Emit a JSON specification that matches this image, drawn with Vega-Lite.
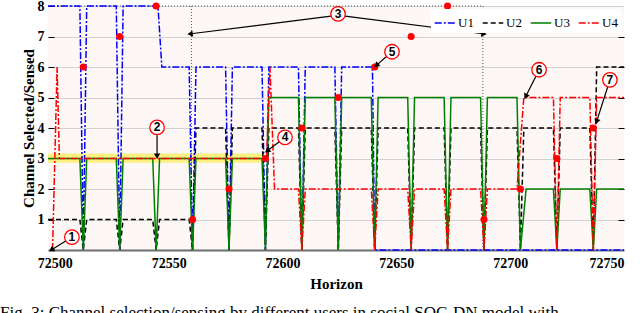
{
  "$schema": "https://vega.github.io/schema/vega-lite/v6.json",
  "width": 576,
  "height": 244,
  "autosize": {"type": "none"},
  "padding": {"left": 48, "top": 6, "right": 16, "bottom": 63},
  "background": "white",
  "config": {
    "view": {"fill": "#fdf7f6", "stroke": null},
    "font": "Liberation Serif"
  },
  "title": {
    "text": "Fig. 3: Channel selection/sensing by different users in social SOC-DN model with",
    "orient": "bottom",
    "anchor": "start",
    "frame": "group",
    "dx": -48,
    "offset": 14,
    "font": "Liberation Serif",
    "fontSize": 17,
    "fontWeight": "normal",
    "color": "black"
  },
  "datasets": {
    "series": [
      {"user": "U1", "t": 72497, "ch": 8},
      {"user": "U1", "t": 72511, "ch": 8}, {"user": "U1", "t": 72512.5, "ch": 0}, {"user": "U1", "t": 72514, "ch": 8},
      {"user": "U1", "t": 72527, "ch": 8}, {"user": "U1", "t": 72528.5, "ch": 0}, {"user": "U1", "t": 72530, "ch": 8},
      {"user": "U1", "t": 72545.3, "ch": 8}, {"user": "U1", "t": 72547, "ch": 6},
      {"user": "U1", "t": 72559, "ch": 6}, {"user": "U1", "t": 72560.5, "ch": 0}, {"user": "U1", "t": 72562, "ch": 6},
      {"user": "U1", "t": 72575, "ch": 6}, {"user": "U1", "t": 72576.5, "ch": 0}, {"user": "U1", "t": 72578, "ch": 6},
      {"user": "U1", "t": 72591, "ch": 6}, {"user": "U1", "t": 72592.5, "ch": 0}, {"user": "U1", "t": 72594, "ch": 6},
      {"user": "U1", "t": 72607, "ch": 6}, {"user": "U1", "t": 72608.5, "ch": 0}, {"user": "U1", "t": 72610, "ch": 6},
      {"user": "U1", "t": 72623, "ch": 6}, {"user": "U1", "t": 72624.5, "ch": 0}, {"user": "U1", "t": 72626, "ch": 6},
      {"user": "U1", "t": 72639.5, "ch": 6}, {"user": "U1", "t": 72640.5, "ch": 0}, {"user": "U1", "t": 72750, "ch": 0},

      {"user": "U2", "t": 72497, "ch": 1},
      {"user": "U2", "t": 72511, "ch": 1}, {"user": "U2", "t": 72512.5, "ch": 0}, {"user": "U2", "t": 72514, "ch": 1},
      {"user": "U2", "t": 72527, "ch": 1}, {"user": "U2", "t": 72528.5, "ch": 0}, {"user": "U2", "t": 72530, "ch": 1},
      {"user": "U2", "t": 72543, "ch": 1}, {"user": "U2", "t": 72544.5, "ch": 0}, {"user": "U2", "t": 72546, "ch": 1},
      {"user": "U2", "t": 72559, "ch": 1}, {"user": "U2", "t": 72560.5, "ch": 0}, {"user": "U2", "t": 72562, "ch": 4},
      {"user": "U2", "t": 72575, "ch": 4}, {"user": "U2", "t": 72576.5, "ch": 0}, {"user": "U2", "t": 72578, "ch": 4},
      {"user": "U2", "t": 72591, "ch": 4}, {"user": "U2", "t": 72592.5, "ch": 0}, {"user": "U2", "t": 72594, "ch": 4},
      {"user": "U2", "t": 72607, "ch": 4}, {"user": "U2", "t": 72608.5, "ch": 0}, {"user": "U2", "t": 72610, "ch": 4},
      {"user": "U2", "t": 72623, "ch": 4}, {"user": "U2", "t": 72624.5, "ch": 0}, {"user": "U2", "t": 72626, "ch": 4},
      {"user": "U2", "t": 72639, "ch": 4}, {"user": "U2", "t": 72640.5, "ch": 0}, {"user": "U2", "t": 72642, "ch": 4},
      {"user": "U2", "t": 72655, "ch": 4}, {"user": "U2", "t": 72656.5, "ch": 0}, {"user": "U2", "t": 72658, "ch": 4},
      {"user": "U2", "t": 72671, "ch": 4}, {"user": "U2", "t": 72672.5, "ch": 0}, {"user": "U2", "t": 72674, "ch": 4},
      {"user": "U2", "t": 72687, "ch": 4}, {"user": "U2", "t": 72688.5, "ch": 0}, {"user": "U2", "t": 72690, "ch": 4},
      {"user": "U2", "t": 72703, "ch": 4}, {"user": "U2", "t": 72704.5, "ch": 0}, {"user": "U2", "t": 72706, "ch": 4},
      {"user": "U2", "t": 72719, "ch": 4}, {"user": "U2", "t": 72720.5, "ch": 0}, {"user": "U2", "t": 72722, "ch": 4},
      {"user": "U2", "t": 72735, "ch": 4}, {"user": "U2", "t": 72736.5, "ch": 0}, {"user": "U2", "t": 72738, "ch": 6},
      {"user": "U2", "t": 72750, "ch": 6},

      {"user": "U3", "t": 72497, "ch": 3},
      {"user": "U3", "t": 72511, "ch": 3}, {"user": "U3", "t": 72512.5, "ch": 0}, {"user": "U3", "t": 72514, "ch": 3},
      {"user": "U3", "t": 72527, "ch": 3}, {"user": "U3", "t": 72528.5, "ch": 0}, {"user": "U3", "t": 72530, "ch": 3},
      {"user": "U3", "t": 72543, "ch": 3}, {"user": "U3", "t": 72544.5, "ch": 0}, {"user": "U3", "t": 72546, "ch": 3},
      {"user": "U3", "t": 72559, "ch": 3}, {"user": "U3", "t": 72560.5, "ch": 0}, {"user": "U3", "t": 72562, "ch": 3},
      {"user": "U3", "t": 72575, "ch": 3}, {"user": "U3", "t": 72576.5, "ch": 0}, {"user": "U3", "t": 72578, "ch": 3},
      {"user": "U3", "t": 72591, "ch": 3}, {"user": "U3", "t": 72592.5, "ch": 0}, {"user": "U3", "t": 72594, "ch": 5},
      {"user": "U3", "t": 72607, "ch": 5}, {"user": "U3", "t": 72608.5, "ch": 0}, {"user": "U3", "t": 72610, "ch": 5},
      {"user": "U3", "t": 72623, "ch": 5}, {"user": "U3", "t": 72624.5, "ch": 0}, {"user": "U3", "t": 72626, "ch": 5},
      {"user": "U3", "t": 72639, "ch": 5}, {"user": "U3", "t": 72640.5, "ch": 0}, {"user": "U3", "t": 72642, "ch": 5},
      {"user": "U3", "t": 72655, "ch": 5}, {"user": "U3", "t": 72656.5, "ch": 0}, {"user": "U3", "t": 72658, "ch": 5},
      {"user": "U3", "t": 72671, "ch": 5}, {"user": "U3", "t": 72672.5, "ch": 0}, {"user": "U3", "t": 72674, "ch": 5},
      {"user": "U3", "t": 72687, "ch": 5}, {"user": "U3", "t": 72688.5, "ch": 0}, {"user": "U3", "t": 72690, "ch": 5},
      {"user": "U3", "t": 72703, "ch": 5}, {"user": "U3", "t": 72704.5, "ch": 0}, {"user": "U3", "t": 72707, "ch": 2},
      {"user": "U3", "t": 72719, "ch": 2}, {"user": "U3", "t": 72720.5, "ch": 0}, {"user": "U3", "t": 72722, "ch": 2},
      {"user": "U3", "t": 72735, "ch": 2}, {"user": "U3", "t": 72736.5, "ch": 0}, {"user": "U3", "t": 72738, "ch": 2},
      {"user": "U3", "t": 72750, "ch": 2},

      {"user": "U4", "t": 72499, "ch": 0}, {"user": "U4", "t": 72501, "ch": 6}, {"user": "U4", "t": 72502, "ch": 3},
      {"user": "U4", "t": 72593, "ch": 3}, {"user": "U4", "t": 72594.5, "ch": 6}, {"user": "U4", "t": 72596.5, "ch": 2},
      {"user": "U4", "t": 72607, "ch": 2}, {"user": "U4", "t": 72608.5, "ch": 0}, {"user": "U4", "t": 72610, "ch": 2},
      {"user": "U4", "t": 72639, "ch": 2}, {"user": "U4", "t": 72640.5, "ch": 0}, {"user": "U4", "t": 72642, "ch": 2},
      {"user": "U4", "t": 72655, "ch": 2}, {"user": "U4", "t": 72656.5, "ch": 0}, {"user": "U4", "t": 72658, "ch": 2},
      {"user": "U4", "t": 72671, "ch": 2}, {"user": "U4", "t": 72672.5, "ch": 0}, {"user": "U4", "t": 72674, "ch": 2},
      {"user": "U4", "t": 72687, "ch": 2}, {"user": "U4", "t": 72688.5, "ch": 0}, {"user": "U4", "t": 72690, "ch": 2},
      {"user": "U4", "t": 72703, "ch": 2}, {"user": "U4", "t": 72706, "ch": 5},
      {"user": "U4", "t": 72719, "ch": 5}, {"user": "U4", "t": 72720.5, "ch": 0}, {"user": "U4", "t": 72722, "ch": 5},
      {"user": "U4", "t": 72735, "ch": 5}, {"user": "U4", "t": 72736.5, "ch": 0}, {"user": "U4", "t": 72738, "ch": 5},
      {"user": "U4", "t": 72750, "ch": 5}
    ],
    "sensed": [
      {"t": 72512.5, "ch": 6}, {"t": 72528.5, "ch": 7}, {"t": 72544.5, "ch": 8}, {"t": 72560.5, "ch": 1},
      {"t": 72576.5, "ch": 2}, {"t": 72592.5, "ch": 3}, {"t": 72608.5, "ch": 4}, {"t": 72624.5, "ch": 5},
      {"t": 72640.5, "ch": 6}, {"t": 72656.5, "ch": 7}, {"t": 72672.5, "ch": 8}, {"t": 72688.5, "ch": 1},
      {"t": 72704.5, "ch": 2}, {"t": 72720.5, "ch": 3}, {"t": 72736.5, "ch": 4}
    ],
    "band": [{"t": 72497, "t2": 72591, "ch": 2.86, "ch2": 3.16}],
    "guides": [
      {"t": 72560, "ch": 0, "t2": 72560, "ch2": 8},
      {"t": 72688, "ch": 0, "t2": 72688, "ch2": 8},
      {"t": 72497, "ch": 8, "t2": 72688, "ch2": 8}
    ],
    "notes": [
      {"label": "1", "t": 72507.5, "ch": 0.42},
      {"label": "2", "t": 72544.9, "ch": 4.02},
      {"label": "3", "t": 72624.4, "ch": 7.74},
      {"label": "4", "t": 72601.1, "ch": 3.69},
      {"label": "5", "t": 72648.1, "ch": 6.5},
      {"label": "6", "t": 72712.7, "ch": 5.91},
      {"label": "7", "t": 72743.8, "ch": 5.58}
    ],
    "arrows": [
      {"t": 72504.95, "ch": 0.3, "t2": 72498.8, "ch2": 0.02},
      {"t": 72544.9, "ch": 3.76, "t2": 72544.9, "ch2": 3.1},
      {"t": 72621.3, "ch": 7.67, "t2": 72559.8, "ch2": 7.09},
      {"t": 72627.5, "ch": 7.67, "t2": 72688.1, "ch2": 7.09},
      {"t": 72598.6, "ch": 3.55, "t2": 72593.6, "ch2": 3.27},
      {"t": 72645.8, "ch": 6.35, "t2": 72641.5, "ch2": 6.07},
      {"t": 72711.3, "ch": 5.7, "t2": 72707, "ch2": 5.06},
      {"t": 72742.9, "ch": 5.36, "t2": 72738.1, "ch2": 4.24}
    ]
  },
  "layer": [
    {
      "data": {"name": "band"},
      "mark": {"type": "rect", "fill": "#fbef6e", "opacity": 0.85},
      "encoding": {
        "x": {"field": "t", "type": "quantitative", "scale": {"domain": [72497, 72750], "nice": false, "zero": false},
          "axis": {
            "orient": "bottom",
            "values": [72500, 72550, 72600, 72650, 72700, 72750],
            "format": "d",
            "title": "Horizon",
            "titleFont": "Liberation Serif",
            "titleFontSize": 15,
            "titleFontWeight": "bold",
            "titleColor": "black",
            "titlePadding": 6,
            "labelFont": "Liberation Serif",
            "labelFontSize": 14,
            "labelFontWeight": "bold",
            "labelColor": "black",
            "labelPadding": 6,
            "ticks": false,
            "grid": false,
            "domain": true,
            "domainColor": "#6e6e6e",
            "domainWidth": 2
          }
        },
        "x2": {"field": "t2"},
        "y": {"field": "ch", "type": "quantitative", "scale": {"domain": [0, 8], "nice": false, "zero": false},
          "axis": {
            "orient": "left",
            "values": [1, 2, 3, 4, 5, 6, 7, 8],
            "title": "Channel Selected/Sensed",
            "titleFont": "Liberation Serif",
            "titleFontSize": 15,
            "titleFontWeight": "bold",
            "titleColor": "black",
            "titlePadding": 1,
            "labelFont": "Liberation Serif",
            "labelFontSize": 14,
            "labelFontWeight": "bold",
            "labelColor": "black",
            "labelPadding": 10,
            "domain": false,
            "ticks": true,
            "tickSize": -6,
            "tickColor": "black",
            "grid": true,
            "gridColor": "#d2d2d2",
            "gridWidth": 1
          }
        },
        "y2": {"field": "ch2"}
      }
    },
    {
      "data": {"name": "guides"},
      "mark": {"type": "rule", "color": "#555555", "strokeWidth": 1, "strokeDash": [1, 2]},
      "encoding": {
        "x": {"field": "t", "type": "quantitative"},
        "x2": {"field": "t2"},
        "y": {"field": "ch", "type": "quantitative", "axis": null},
        "y2": {"field": "ch2"}
      }
    },
    {
      "data": {"name": "series"},
      "mark": {"type": "line", "strokeWidth": 1.5, "interpolate": "linear"},
      "encoding": {
        "x": {"field": "t", "type": "quantitative"},
        "y": {"field": "ch", "type": "quantitative", "axis": null},
        "color": {
          "field": "user", "type": "nominal",
          "scale": {"domain": ["U1", "U2", "U3", "U4"], "range": ["#0000ff", "#000000", "#008000", "#ff0000"]},
          "legend": {
            "title": null,
            "orient": "top-right",
            "offset": 3,
            "direction": "horizontal",
            "fillColor": "white",
            "padding": 3,
            "columnPadding": 5,
            "symbolType": "stroke",
            "symbolSize": 420,
            "symbolStrokeWidth": 1.5,
            "labelFont": "Liberation Serif",
            "labelFontSize": 13,
            "labelColor": "black",
            "labelOffset": 2
          }
        },
        "strokeDash": {
          "field": "user", "type": "nominal",
          "scale": {"domain": ["U1", "U2", "U3", "U4"], "range": [[7, 2, 2, 2], [5, 3], [1, 0], [7, 2, 2, 2]]},
          "legend": {
            "title": null,
            "orient": "top-right",
            "offset": 3,
            "direction": "horizontal",
            "fillColor": "white",
            "padding": 3,
            "columnPadding": 5,
            "symbolType": "stroke",
            "symbolSize": 420,
            "symbolStrokeWidth": 1.5,
            "labelFont": "Liberation Serif",
            "labelFontSize": 13,
            "labelColor": "black",
            "labelOffset": 2
          }
        }
      }
    },
    {
      "data": {"name": "sensed"},
      "mark": {"type": "point", "shape": "circle", "filled": true, "color": "#ff0000", "size": 50, "opacity": 1},
      "encoding": {
        "x": {"field": "t", "type": "quantitative"},
        "y": {"field": "ch", "type": "quantitative", "axis": null}
      }
    },
    {
      "data": {"name": "arrows"},
      "mark": {"type": "rule", "color": "black", "strokeWidth": 1.2},
      "encoding": {
        "x": {"field": "t", "type": "quantitative"},
        "x2": {"field": "t2"},
        "y": {"field": "ch", "type": "quantitative", "axis": null},
        "y2": {"field": "ch2"}
      }
    },
    {
      "data": {"name": "arrows"},
      "transform": [
        {"calculate": "atan2((datum.t2 - datum.t) * 576 / 253, (datum.ch2 - datum.ch) * 244 / 8) * 180 / PI", "as": "heading"}
      ],
      "mark": {"type": "point", "shape": "triangle", "filled": true, "color": "black", "size": 40, "opacity": 1},
      "encoding": {
        "x": {"field": "t2", "type": "quantitative"},
        "y": {"field": "ch2", "type": "quantitative", "axis": null},
        "angle": {"field": "heading", "type": "quantitative", "scale": null}
      }
    },
    {
      "data": {"name": "notes"},
      "mark": {"type": "point", "shape": "circle", "filled": true, "fill": "white", "stroke": "#ff0000", "strokeWidth": 1.3, "size": 210, "opacity": 1},
      "encoding": {
        "x": {"field": "t", "type": "quantitative"},
        "y": {"field": "ch", "type": "quantitative", "axis": null}
      }
    },
    {
      "data": {"name": "notes"},
      "mark": {"type": "text", "font": "Liberation Sans", "fontWeight": "bold", "fontSize": 12, "color": "black", "align": "center", "baseline": "middle"},
      "encoding": {
        "x": {"field": "t", "type": "quantitative"},
        "y": {"field": "ch", "type": "quantitative", "axis": null},
        "text": {"field": "label"}
      }
    },
    {
      "mark": {"type": "rule", "color": "black", "strokeWidth": 1.2},
      "encoding": {
        "x": {"datum": 72750, "type": "quantitative"},
        "y": {"datum": 0, "type": "quantitative",
          "axis": {
            "orient": "right",
            "values": [1, 2, 3, 4, 5, 6, 7],
            "labels": false,
            "title": null,
            "domain": false,
            "grid": false,
            "ticks": true,
            "tickSize": -6,
            "tickColor": "black"
          }
        },
        "y2": {"datum": 8}
      }
    }
  ],
  "resolve": {"axis": {"y": "independent"}}
}
